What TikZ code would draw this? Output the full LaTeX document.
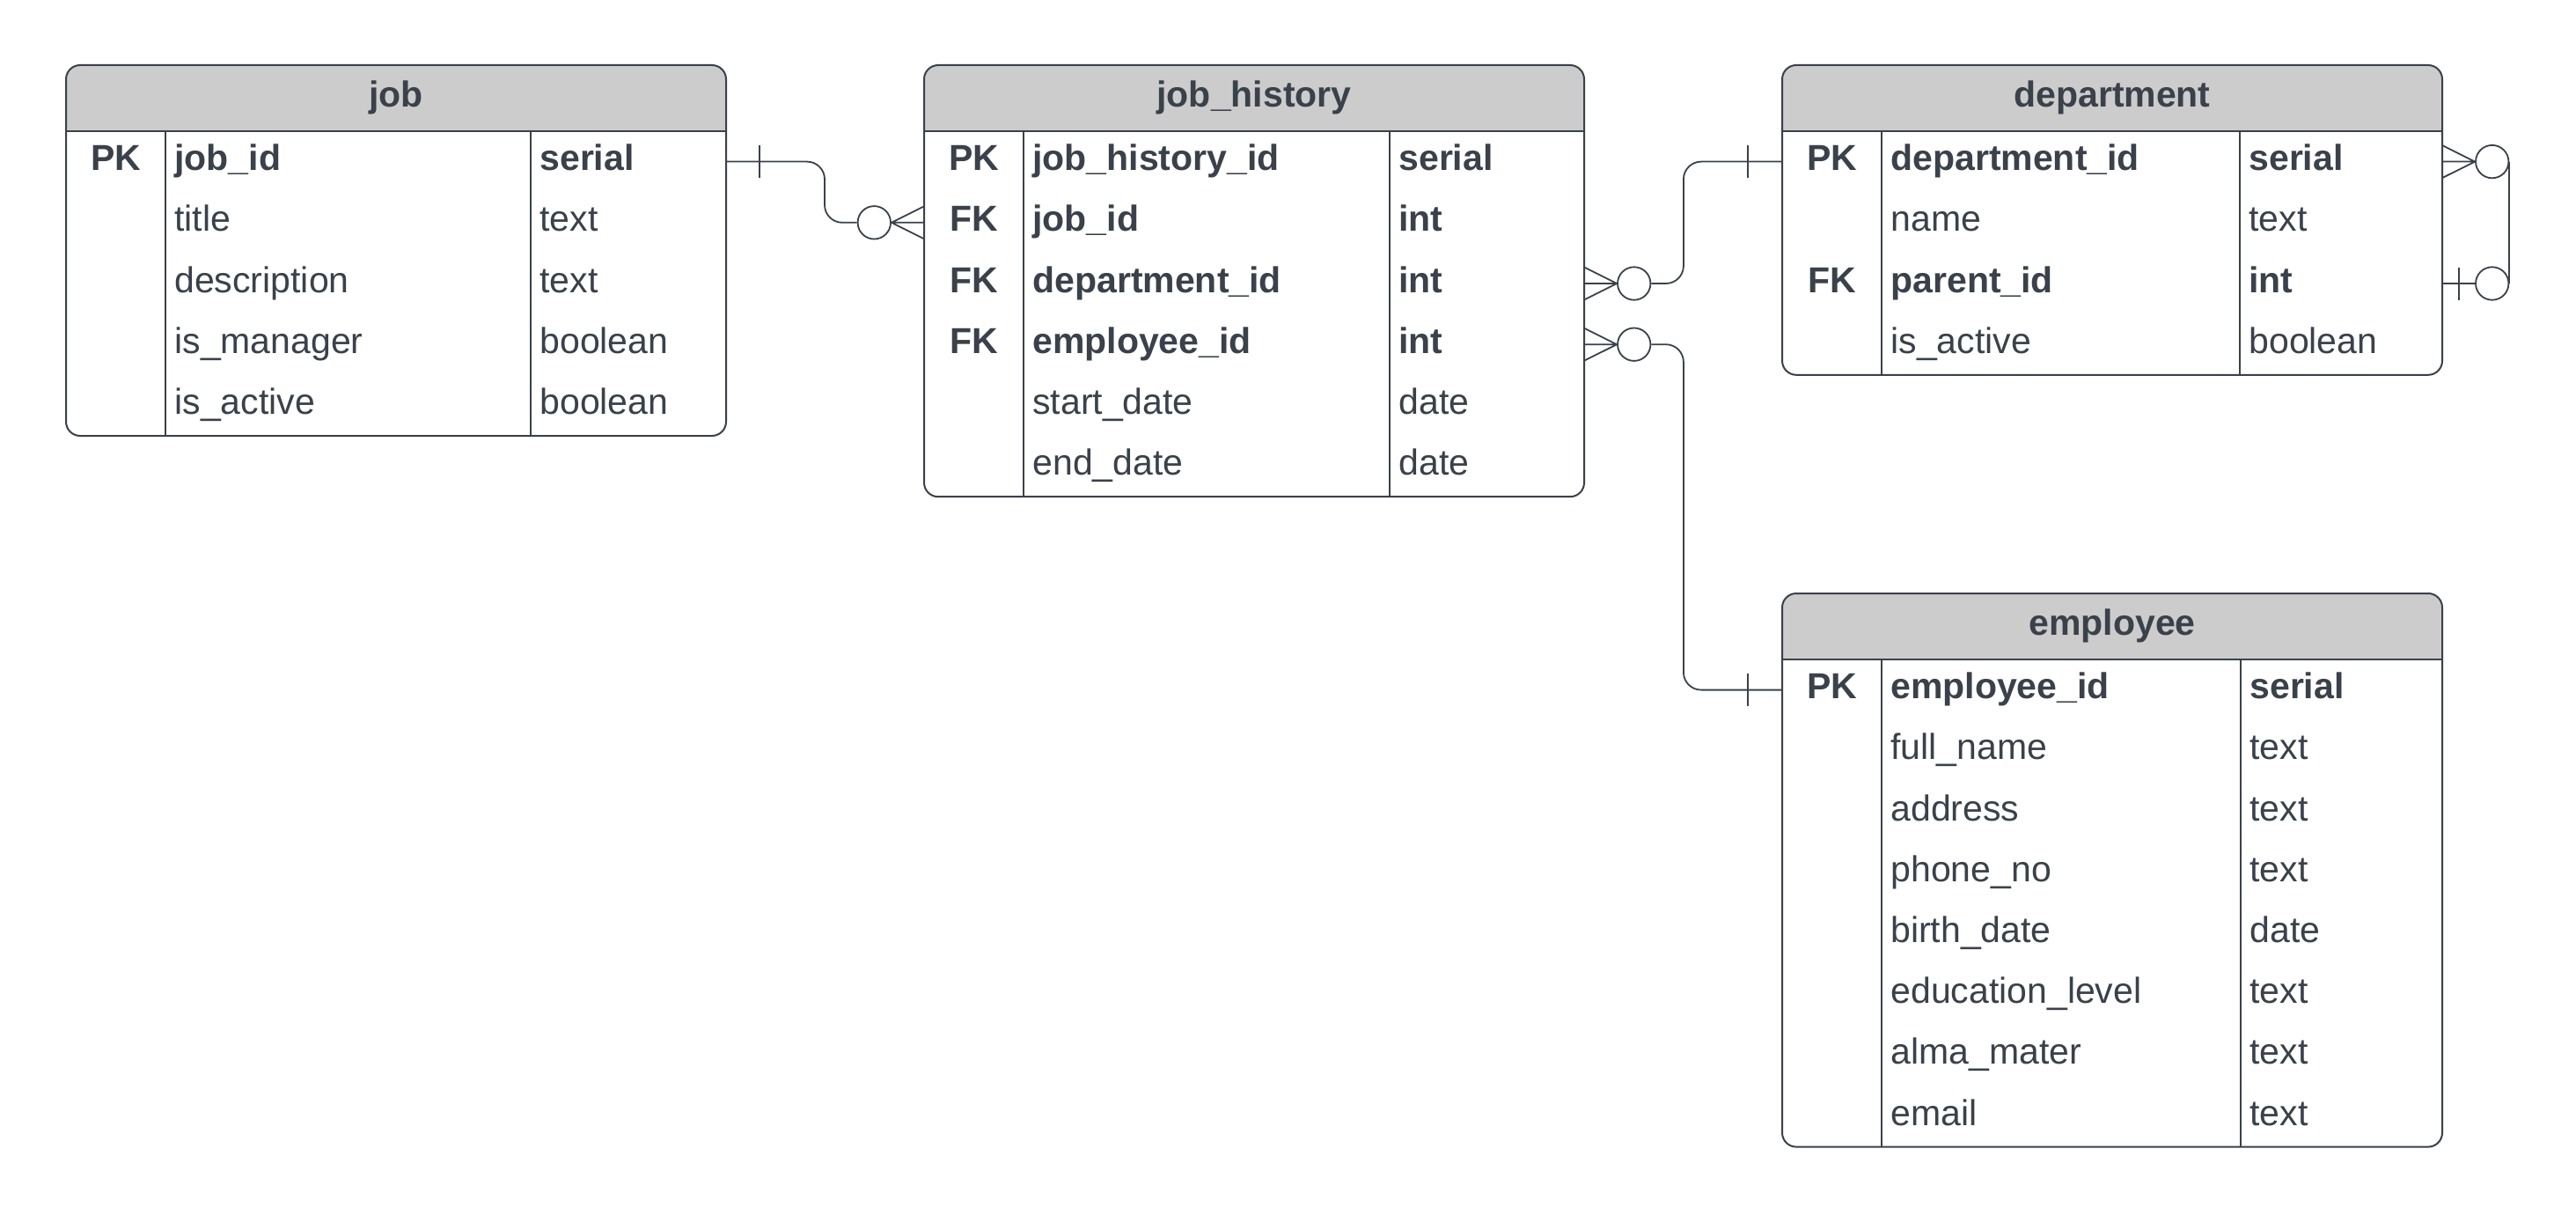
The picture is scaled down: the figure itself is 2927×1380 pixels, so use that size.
\documentclass[tikz,border=0pt]{standalone}
\usepackage{fontspec}
\setmainfont{Liberation Sans}
\usetikzlibrary{calc}
\definecolor{ink}{HTML}{3A414A}
\definecolor{hdr}{HTML}{CCCCCC}
\newcommand\rowfont{\fontsize{20.5}{24}\selectfont}
\newcommand\settab[4]{\def\tid{#1}\def\tL{#2}\def\tT{#3}\def\tO{#4}}
\newcommand\ertable[5]{% id, L, T, nrows, title
  \pgfmathsetmacro\eR{#2+750}
  \pgfmathsetmacro\eH{#3+75}
  \pgfmathsetmacro\eB{#3+75+#4*69.2}
  \pgfmathsetmacro\eD{#2+113}
  \pgfmathsetmacro\eE{#2+\tO}
  \fill[white, rounded corners=8] (#2,#3) rectangle (\eR,\eB);
  \begin{scope}
    \clip (#2,#3) rectangle (\eR,\eH);
    \fill[hdr, rounded corners=8] (#2,#3) rectangle (\eR,\eB);
  \end{scope}
  \draw[divline] (\eD,\eH) -- (\eD,\eB) (\eE,\eH) -- (\eE,\eB);
  \draw[tabline] (#2,\eH) -- (\eR,\eH);
  \draw[tabline, rounded corners=8] (#2,#3) rectangle (\eR,\eB);
  \node[hdrtext] (#1-title) at ({#2+375},{#3+37.5+10}) {#5};
}
\newcommand\krow[4]{% i, key, name, type (bold row)
  \node[keytext] (\tid-k#1) at ({\tL+56.5},{\tT+75+(#1-0.5)*69.2+10}) {#2};
  \node[celltext, font=\bfseries\rowfont] (\tid-n#1) at ({\tL+123},{\tT+75+(#1-0.5)*69.2+10}) {#3};
  \node[celltext, font=\bfseries\rowfont] (\tid-t#1) at ({\tL+\tO+10},{\tT+75+(#1-0.5)*69.2+10}) {#4};
}
\newcommand\prow[3]{% i, name, type (plain row)
  \node[celltext] (\tid-n#1) at ({\tL+123},{\tT+75+(#1-0.5)*69.2+10}) {#2};
  \node[celltext] (\tid-t#1) at ({\tL+\tO+10},{\tT+75+(#1-0.5)*69.2+10}) {#3};
}
\tikzset{
  tabline/.style={draw=ink, line width=1pt},
  divline/.style={draw=ink, line width=0.6pt},
  conn/.style={draw=ink, line width=0.9pt},
  celltext/.style={anchor=base west, inner sep=0pt, text=ink, font=\rowfont},
  keytext/.style={anchor=base, inner sep=0pt, text=ink, font=\bfseries\rowfont},
  hdrtext/.style={anchor=base, inner sep=0pt, text=ink, font=\bfseries\rowfont},
  ring/.style={circle, draw=ink, line width=0.9pt, fill=white, minimum size=18.7pt, inner sep=0pt},
}
\begin{document}
\begin{tikzpicture}[x=0.5pt, y=-0.5pt]
\useasboundingbox (0,0) rectangle (2927,1380);

% ---------- job ----------
\settab{job}{75}{74}{528}
\ertable{job}{75}{74}{5}{job}
\krow{1}{PK}{job\_id}{serial}
\prow{2}{title}{text}
\prow{3}{description}{text}
\prow{4}{is\_manager}{boolean}
\prow{5}{is\_active}{boolean}

% ---------- job_history ----------
\settab{jh}{1050}{74}{529}
\ertable{jh}{1050}{74}{6}{job\_history}
\krow{1}{PK}{job\_history\_id}{serial}
\krow{2}{FK}{job\_id}{int}
\krow{3}{FK}{department\_id}{int}
\krow{4}{FK}{employee\_id}{int}
\prow{5}{start\_date}{date}
\prow{6}{end\_date}{date}

% ---------- department ----------
\settab{dept}{2025}{74}{520}
\ertable{dept}{2025}{74}{4}{department}
\krow{1}{PK}{department\_id}{serial}
\prow{2}{name}{text}
\krow{3}{FK}{parent\_id}{int}
\prow{4}{is\_active}{boolean}

% ---------- employee ----------
\settab{emp}{2025}{674}{521}
\ertable{emp}{2025}{674}{8}{employee}
\krow{1}{PK}{employee\_id}{serial}
\prow{2}{full\_name}{text}
\prow{3}{address}{text}
\prow{4}{phone\_no}{text}
\prow{5}{birth\_date}{date}
\prow{6}{education\_level}{text}
\prow{7}{alma\_mater}{text}
\prow{8}{email}{text}

% ---------- connector end points ----------
\coordinate (jobR1) at (825,183.6);
\coordinate (jhL2) at (1050,252.8);
\coordinate (jhR3) at (1800,322);
\coordinate (jhR4) at (1800,391.2);
\coordinate (deptL1) at (2025,183.6);
\coordinate (deptR1) at (2775,183.6);
\coordinate (deptR3) at (2775,322);
\coordinate (empL1) at (2025,783.6);

\node[ring] (c1) at (993.3,252.8) {};
\node[ring] (c2) at (1856.7,322) {};
\node[ring] (c3) at (1856.7,391.2) {};
\node[ring] (c4) at (2831.7,183.6) {};
\node[ring] (c5) at (2831.7,322) {};

% job -> job_history
\draw[conn, rounded corners=10] (jobR1) -- ++(112,0) |- (c1.west);
\draw[conn] ($(jobR1)+(38,-18.5)$) -- ++(0,37);
\draw[conn] (c1.east) -- (jhL2)
            (c1.east) -- ($(jhL2)+(0,-18.5)$)
            (c1.east) -- ($(jhL2)+(0,18.5)$);

% job_history -> department
\draw[conn] (c2.west) -- (jhR3)
            (c2.west) -- ($(jhR3)+(0,-18.5)$)
            (c2.west) -- ($(jhR3)+(0,18.5)$);
\draw[conn, rounded corners=10] (c2.east) -- ++(36.6,0) |- (deptL1);
\draw[conn] ($(deptL1)+(-39,-18.5)$) -- ++(0,37);

% job_history -> employee
\draw[conn] (c3.west) -- (jhR4)
            (c3.west) -- ($(jhR4)+(0,-18.5)$)
            (c3.west) -- ($(jhR4)+(0,18.5)$);
\draw[conn, rounded corners=10] (c3.east) -- ++(36.6,0) |- (empL1);
\draw[conn] ($(empL1)+(-39,-18.5)$) -- ++(0,37);

% department self reference
\draw[conn] (c4.east) -- (c5.east);
\draw[conn] (c4.west) -- (deptR1)
            (c4.west) -- ($(deptR1)+(0,-18.5)$)
            (c4.west) -- ($(deptR1)+(0,18.5)$);
\draw[conn] (deptR3) -- (c5.west);
\draw[conn] ($(deptR3)+(19,-18.5)$) -- ++(0,37);
\end{tikzpicture}
\end{document}
